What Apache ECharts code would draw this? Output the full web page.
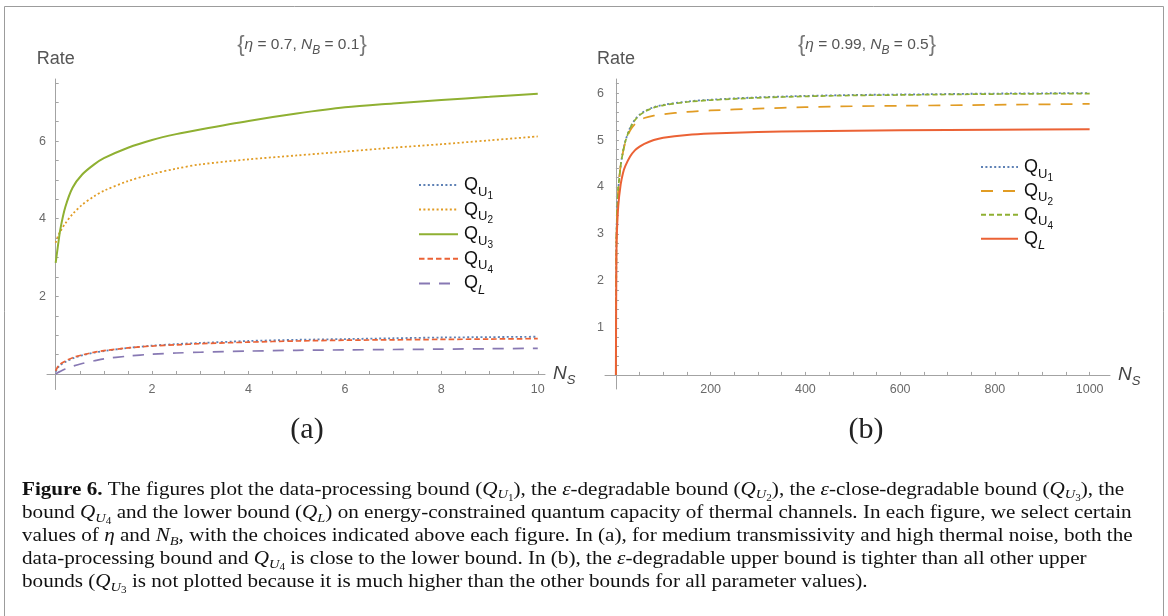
<!DOCTYPE html>
<html>
<head>
<meta charset="utf-8">
<script src="https://cdn.jsdelivr.net/npm/echarts@6/dist/echarts.min.js"></script>
<style>
html, body { margin: 0; padding: 0; background: #fff; }
#chart { width: 1168px; height: 616px; }
</style>
</head>
<body>
<div id="chart"></div>
<script>
(function () {
    'use strict';

    // (a) eta = 0.7, N_B = 0.1
    var nsA = [0, 0.05, 0.1, 0.2, 0.35, 0.55, 0.8, 1, 1.5, 2, 2.5, 3, 4, 5, 6, 7, 8, 9, 10];
    var qU1A = [0.06, 0.17, 0.23, 0.31, 0.4, 0.48, 0.55, 0.59, 0.67, 0.73, 0.77, 0.8, 0.85, 0.88, 0.9, 0.92, 0.94, 0.95, 0.96];
    var qU2A = [3.38, 3.56, 3.68, 3.88, 4.12, 4.36, 4.58, 4.72, 4.97, 5.15, 5.29, 5.4, 5.53, 5.63, 5.73, 5.83, 5.92, 6.02, 6.12];
    var qU3A = [2.86, 3.33, 3.75, 4.3, 4.8, 5.14, 5.4, 5.56, 5.83, 6.03, 6.18, 6.3, 6.52, 6.71, 6.87, 6.97, 7.06, 7.14, 7.22];
    var qU4A = [0.08, 0.2, 0.26, 0.33, 0.42, 0.49, 0.56, 0.6, 0.67, 0.72, 0.75, 0.78, 0.82, 0.85, 0.87, 0.88, 0.89, 0.9, 0.91];
    var qLA = [0, 0.04, 0.07, 0.13, 0.2, 0.27, 0.34, 0.39, 0.46, 0.51, 0.54, 0.56, 0.59, 0.61, 0.62, 0.63, 0.64, 0.65, 0.66];

    // (b) eta = 0.99, N_B = 0.5
    var nsB = [0, 1, 2, 5, 10, 15, 20, 30, 40, 50, 60, 80, 100, 150, 200, 300, 400, 500, 600, 800, 1000];
    var qU1B = [0, 2.8, 3.3, 3.95, 4.45, 4.76, 4.98, 5.26, 5.43, 5.54, 5.61, 5.7, 5.75, 5.82, 5.86, 5.91, 5.94, 5.96, 5.97, 5.99, 6.0];
    var qU2B = [0, 2.8, 3.3, 3.95, 4.45, 4.74, 4.95, 5.2, 5.34, 5.42, 5.47, 5.52, 5.55, 5.6, 5.63, 5.67, 5.7, 5.72, 5.73, 5.75, 5.77];
    var qU4B = [0, 2.8, 3.3, 3.95, 4.45, 4.75, 4.97, 5.25, 5.42, 5.53, 5.6, 5.69, 5.74, 5.81, 5.85, 5.9, 5.93, 5.95, 5.96, 5.98, 5.99];
    var qLB = [0, 2.5, 3.0, 3.6, 4.05, 4.3, 4.45, 4.65, 4.78, 4.86, 4.92, 5.0, 5.05, 5.11, 5.14, 5.17, 5.19, 5.2, 5.21, 5.22, 5.23];

    // tick labels
    var xLabelsA = [2, 4, 6, 8, 10];
    var yLabelsA = [2, 4, 6];
    var xLabelsB = [200, 400, 600, 800, 1000];
    var yLabelsB = [1, 2, 3, 4, 5, 6];

    var axisColor = '#a3a3a3';
    var labelColor = '#6a6a6a';
    var sans = 'Liberation Sans';
    var serif = 'Liberation Serif';

    function pairs(xs, ys) {
        return xs.map(function (x, i) { return [x, ys[i]]; });
    }

    function steps(from, to, step) {
        var out = [];
        for (var v = from; v <= to + 1e-9; v += step) {
            out.push(Math.round(v * 1000) / 1000);
        }
        return out;
    }

    // legend text
    var legendNames = {
        aU1: '{q|Q}{s|U}{ss|1}', aU2: '{q|Q}{s|U}{ss|2}', aU3: '{q|Q}{s|U}{ss|3}',
        aU4: '{q|Q}{s|U}{ss|4}', aL: '{q|Q}{si|L}',
        bU1: '{q|Q}{s|U}{ss|1}', bU2: '{q|Q}{s|U}{ss|2}', bU4: '{q|Q}{s|U}{ss|4}', bL: '{q|Q}{si|L}'
    };

    // subscripts: bottom aligned with a small box height, so they drop below the main glyphs
    var legendRich = {
        q: { fontSize: 18, fontFamily: sans, color: '#111', lineHeight: 24, height: 24 },
        s: { fontSize: 13, fontFamily: sans, color: '#111', lineHeight: 24, height: 10, verticalAlign: 'bottom' },
        si: { fontSize: 13, fontFamily: sans, fontStyle: 'italic', color: '#111', lineHeight: 24, height: 10, verticalAlign: 'bottom' },
        ss: { fontSize: 10, fontFamily: sans, color: '#111', lineHeight: 24, height: 2, verticalAlign: 'bottom' }
    };

    function line(name, xi, data, color, type, width) {
        return {
            name: name,
            type: 'line',
            xAxisIndex: xi,
            yAxisIndex: xi,
            data: data,
            symbol: 'none',
            smooth: 0.3,
            lineStyle: { color: color, type: type, width: width || 1.7 },
            itemStyle: { color: color },
            z: 3
        };
    }

    function xAxis(grid, min, max, labels, ticks) {
        return {
            type: 'value',
            gridIndex: grid,
            min: min,
            max: max,
            splitLine: { show: false },
            axisLine: { onZero: true, lineStyle: { color: axisColor, width: 1 } },
            axisTick: { inside: true, length: 3, customValues: ticks, lineStyle: { color: axisColor } },
            axisLabel: {
                customValues: labels, color: labelColor, fontSize: 12.5, fontFamily: sans, margin: -6,
                formatter: function (v) { return String(v); }
            },
            name: '{n|N}{s|S}',
            nameLocation: 'end',
            nameGap: 8,
            nameTextStyle: {
                rich: {
                    n: { fontSize: 19, fontFamily: sans, fontStyle: 'italic', color: '#444', lineHeight: 22, height: 22 },
                    s: { fontSize: 13, fontFamily: sans, fontStyle: 'italic', color: '#444', lineHeight: 22, height: 10, verticalAlign: 'bottom' }
                }
            }
        };
    }

    function yAxis(grid, min, max, labels, ticks) {
        return {
            type: 'value',
            gridIndex: grid,
            min: min,
            max: max,
            splitLine: { show: false },
            axisLine: { onZero: true, lineStyle: { color: axisColor, width: 1 } },
            axisTick: { inside: true, length: 3, customValues: ticks, lineStyle: { color: axisColor } },
            axisLabel: { customValues: labels, color: labelColor, fontSize: 12.5, fontFamily: sans, margin: 1 },
            name: 'Rate',
            nameLocation: 'end',
            nameGap: 11,
            nameTextStyle: { fontSize: 18, fontFamily: sans, color: '#555', align: 'center' }
        };
    }

    function title(text, left) {
        return {
            text: text,
            left: left,
            top: 28,
            textAlign: 'center',
            textStyle: {
                fontSize: 22, fontFamily: sans, fontWeight: 'normal', color: '#777',
                rich: {
                    t: { fontSize: 15.5, fontFamily: sans, color: '#555', lineHeight: 24, height: 24 },
                    i: { fontSize: 15.5, fontFamily: sans, fontStyle: 'italic', color: '#555', lineHeight: 24, height: 24 },
                    s: { fontSize: 12, fontFamily: sans, fontStyle: 'italic', color: '#555', lineHeight: 24, height: 13, verticalAlign: 'bottom' }
                }
            }
        };
    }

    var captionRich = {
        b: { fontFamily: serif, fontSize: 19, fontWeight: 'bold', color: '#111', lineHeight: 22, height: 22 },
        i: { fontFamily: serif, fontSize: 19, fontStyle: 'italic', color: '#111', lineHeight: 22, height: 22 },
        s: { fontFamily: serif, fontSize: 13, fontStyle: 'italic', color: '#111', lineHeight: 22, height: 12, verticalAlign: 'bottom' },
        ss: { fontFamily: serif, fontSize: 10, color: '#111', lineHeight: 22, height: 6, verticalAlign: 'bottom' }
    };

    var captionLines = [
        '{b|Figure 6.} The figures plot the data-processing bound ({i|Q}{s|U}{ss|1}), the {i|ε}-degradable bound ({i|Q}{s|U}{ss|2}), the {i|ε}-close-degradable bound ({i|Q}{s|U}{ss|3}), the',
        'bound {i|Q}{s|U}{ss|4} and the lower bound ({i|Q}{s|L}) on energy-constrained quantum capacity of thermal channels. In each figure, we select certain',
        'values of {i|η} and {i|N}{s|B}, with the choices indicated above each figure. In (a), for medium transmissivity and high thermal noise, both the',
        'data-processing bound and {i|Q}{s|U}{ss|4} is close to the lower bound. In (b), the {i|ε}-degradable upper bound is tighter than all other upper',
        'bounds ({i|Q}{s|U}{ss|3} is not plotted because it is much higher than the other bounds for all parameter values).'
    ];

    var graphics = [{
        type: 'rect',
        shape: { x: 4.5, y: 6.5, width: 1159, height: 700 },
        style: { fill: 'none', stroke: '#9c9c9c', lineWidth: 1 },
        silent: true
    }, {
        type: 'text', x: 307, y: 430,
        style: { text: '(a)', font: '30px "Liberation Serif"', fill: '#222', align: 'center', verticalAlign: 'middle' }
    }, {
        type: 'text', x: 866, y: 430,
        style: { text: '(b)', font: '30px "Liberation Serif"', fill: '#222', align: 'center', verticalAlign: 'middle' }
    }];
    captionLines.forEach(function (t, i) {
        graphics.push({
            type: 'text',
            x: 22,
            y: 490 + i * 23.1,
            scaleX: 1.112,
            style: {
                text: t,
                fontFamily: serif,
                fontSize: 19,
                lineHeight: 22,
                fill: '#111',
                verticalAlign: 'middle',
                rich: captionRich
            }
        });
    });

    var chart = echarts.init(document.getElementById('chart'), null, { renderer: 'canvas' });

    var option = {
        animation: false,
        backgroundColor: '#fff',
        title: [
            title('{' + '{i|η}{t| = 0.7, }{i|N}{s|B}{t| = 0.1}' + '}', 297),
            title('{' + '{i|η}{t| = 0.99, }{i|N}{s|B}{t| = 0.5}' + '}', 862)
        ],
        grid: [
            { left: 47, top: 79, width: 498, height: 310.5 },
            { left: 605, top: 79, width: 505, height: 310 }
        ],
        xAxis: [
            xAxis(0, -0.18, 10.15, xLabelsA, steps(0.5, 10, 0.5)),
            xAxis(1, -23, 1043, xLabelsB, steps(50, 1000, 50))
        ],
        yAxis: [
            yAxis(0, -0.4, 7.6, yLabelsA, steps(0.5, 7.5, 0.5)),
            yAxis(1, -0.3, 6.3, yLabelsB, steps(0.2, 6.2, 0.2))
        ],
        legend: [{
            data: ['aU1', 'aU2', 'aU3', 'aU4', 'aL'],
            orient: 'vertical',
            left: 413,
            top: 168,
            itemWidth: 39,
            itemHeight: 10,
            itemGap: -3.4,
            itemStyle: { opacity: 0 },
            formatter: function (n) { return legendNames[n]; },
            textStyle: { rich: legendRich, lineHeight: 24, padding: [0, 0, 0, 1] }
        }, {
            data: ['bU1', 'bU2', 'bU4', 'bL'],
            orient: 'vertical',
            left: 975,
            top: 150,
            itemWidth: 37,
            itemHeight: 10,
            itemGap: -4.1,
            itemStyle: { opacity: 0 },
            formatter: function (n) { return legendNames[n]; },
            textStyle: { rich: legendRich, lineHeight: 24, padding: [0, 0, 0, 1] }
        }],
        series: [
            line('aU1', 0, pairs(nsA, qU1A), '#5e81b5', [2, 2.4], 1.8),
            line('aU2', 0, pairs(nsA, qU2A), '#e19c24', [2, 2.4], 1.8),
            line('aU3', 0, pairs(nsA, qU3A), '#8fb032', 'solid', 2),
            line('aU4', 0, pairs(nsA, qU4A), '#eb6235', [5.5, 3], 1.7),
            line('aL', 0, pairs(nsA, qLA), '#8778b3', [11, 9], 1.7),
            line('bU1', 1, pairs(nsB, qU1B), '#5e81b5', [2, 2.4], 1.8),
            line('bU2', 1, pairs(nsB, qU2B), '#e19c24', [12, 10], 1.7),
            line('bU4', 1, pairs(nsB, qU4B), '#8fb032', [5, 3], 1.7),
            line('bL', 1, pairs(nsB, qLB), '#eb6235', 'solid', 2)
        ],
        graphic: graphics
    };

    chart.setOption(option);
})();
</script>
</body>
</html>
